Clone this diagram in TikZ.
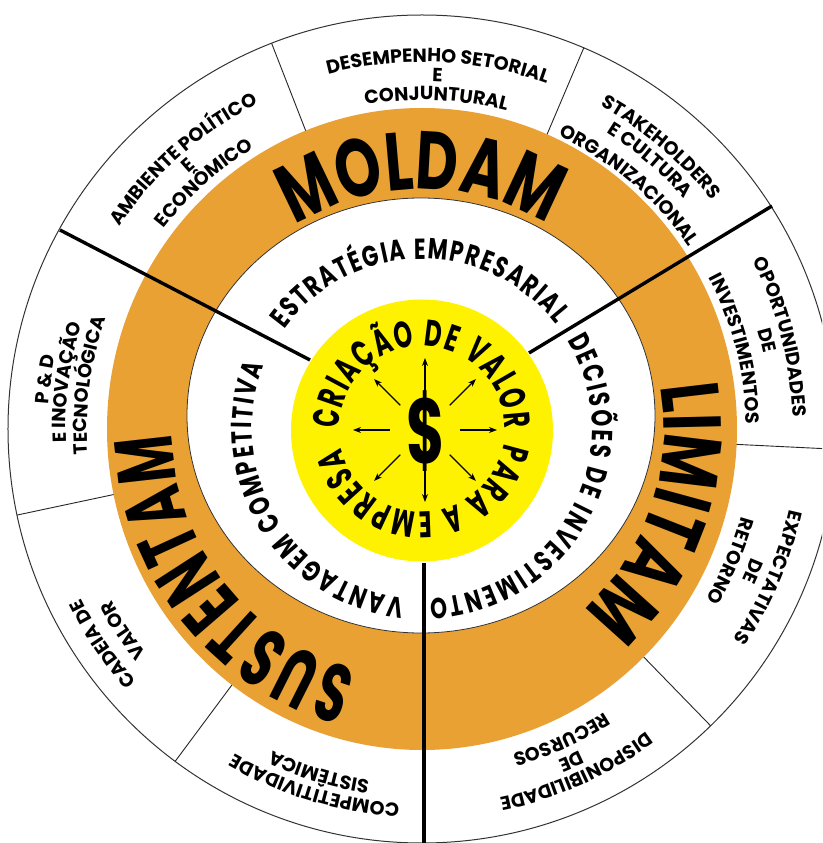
\documentclass[tikz,border=0pt]{standalone}
\usepackage{fontspec}
\setmainfont{Poppins}
\newfontfamily\moldfont{Poppins}[FakeStretch=0.71]
\newfontfamily\moldnarrow{Poppins}[FakeStretch=0.63]
\newfontfamily\innerfont{Poppins}[FakeStretch=0.74]
\newfontfamily\hubfont{Poppins}[FakeStretch=0.64]
\newcommand\lblfmt{\bfseries\fontsize{19}{19}\selectfont}
\newcommand\moldfmt{\moldfont\bfseries\fontsize{82}{82}\selectfont}
\newcommand\narrowfmt{\moldnarrow\bfseries\fontsize{82}{82}\selectfont}
\newcommand\innerfmt{\innerfont\bfseries\fontsize{29}{29}\selectfont}
\newcommand\hubfmt{\hubfont\bfseries\fontsize{37}{37}\selectfont}
\usetikzlibrary{decorations.text,arrows.meta}
\definecolor{ringorange}{RGB}{233,161,52}
\definecolor{hubyellow}{RGB}{255,242,0}
\tikzset{
  rim/.style={draw=black!80, line width=1pt},
  divider/.style={draw=black!85, line width=0.9pt},
  split/.style={draw=black, line width=3.4pt},
  ray/.style={-{Stealth[length=8pt,width=6pt]}, line width=1.2pt},
  arclabel/.style={decorate, decoration={text along path, text align=center, text={|\lblfmt|#1}}},
  bigword/.style={decorate, decoration={text along path, text align={fit to path}, text={|\moldfmt|#1}}},
  narrowword/.style={decorate, decoration={text along path, text align={fit to path}, text={|\narrowfmt|#1}}},
  ringword/.style={decorate, decoration={text along path, text align={fit to path}, text={|\innerfmt|#1}}},
  hubword/.style={decorate, decoration={text along path, text align={fit to path}, text={|\hubfmt|#1}}},
}

\begin{document}
\begin{tikzpicture}[x=1pt,y=1pt]

\fill[white] (-422,-414) rectangle (400,429);
\useasboundingbox (-422,-414) rectangle (400,429);
\clip (-422,-414) rectangle (400,429);

% rings
\draw[rim, fill=white] (0,0) circle[radius=414pt];
\foreach \a in {111.3,67,-2.8,-45.8,192,233.4}
  \draw[divider] (\a:300pt) -- (\a:414pt);
\fill[ringorange] (0,0) ellipse[x radius=315pt, y radius=321pt];
\draw[rim, line width=0.8pt, fill=white] (-1,13.5) ellipse[x radius=234pt, y radius=217.5pt];
\fill[hubyellow] (0,-1.5) circle[radius=131pt];

% three sectors
\draw[split] (-112,69) -- (-362,199);
\draw[split] (107,76) -- (350,223);
\draw[split] (2,-134) -- (2,-414);

% outer labels
\path[arclabel={AMBIENTE POLÍTICO}] (171.5:364pt) arc[start angle=171.5, end angle=91.5, radius=364pt];
\path[arclabel={E}] (171.5:346pt) arc[start angle=171.5, end angle=91.5, radius=346pt];
\path[arclabel={ECONÔMICO}] (171.5:327pt) arc[start angle=171.5, end angle=91.5, radius=327pt];

\path[arclabel={DESEMPENHO SETORIAL}] (127.5:367pt) arc[start angle=127.5, end angle=47.5, radius=367pt];
\path[arclabel={E}] (127.5:348pt) arc[start angle=127.5, end angle=47.5, radius=348pt];
\path[arclabel={CONJUNTURAL}] (127.5:329pt) arc[start angle=127.5, end angle=47.5, radius=329pt];

\path[arclabel={STAKEHOLDERS}] (89.7:369pt) arc[start angle=89.7, end angle=9.7, radius=369pt];
\path[arclabel={E CULTURA}] (89.7:349pt) arc[start angle=89.7, end angle=9.7, radius=349pt];
\path[arclabel={ORGANIZACIONAL}] (89.7:323pt) arc[start angle=89.7, end angle=9.7, radius=323pt];

\path[arclabel={OPORTUNIDADES}] (54.4:371pt) arc[start angle=54.4, end angle=-25.6, radius=371pt];
\path[arclabel={DE}] (54.4:350pt) arc[start angle=54.4, end angle=-25.6, radius=350pt];
\path[arclabel={INVESTIMENTOS}] (54.4:324pt) arc[start angle=54.4, end angle=-25.6, radius=324pt];

\path[arclabel={EXPECTATIVAS}] (16.8:376pt) arc[start angle=16.8, end angle=-63.2, radius=376pt];
\path[arclabel={DE}] (16.8:354pt) arc[start angle=16.8, end angle=-63.2, radius=354pt];
\path[arclabel={RETORNO}] (16.8:331pt) arc[start angle=16.8, end angle=-63.2, radius=331pt];

\path[arclabel={DISPONIBILIDADE}] (-25.8:377pt) arc[start angle=-25.8, end angle=-105.8, radius=377pt];
\path[arclabel={DE}] (-25.8:358pt) arc[start angle=-25.8, end angle=-105.8, radius=358pt];
\path[arclabel={RECURSOS}] (-25.8:337pt) arc[start angle=-25.8, end angle=-105.8, radius=337pt];

\path[arclabel={COMPETITIVIDADE}] (293.3:375pt) arc[start angle=293.3, end angle=213.3, radius=375pt];
\path[arclabel={SISTÊMICA}] (293.3:355pt) arc[start angle=293.3, end angle=213.3, radius=355pt];

\path[arclabel={CADEIA DE}] (254:381pt) arc[start angle=254, end angle=174, radius=381pt];
\path[arclabel={VALOR}] (254:355pt) arc[start angle=254, end angle=174, radius=355pt];

\path[arclabel={P {\&} D}] (212.5:374pt) arc[start angle=212.5, end angle=132.5, radius=374pt];
\path[arclabel={E INOVAÇÃO}] (212.5:356pt) arc[start angle=212.5, end angle=132.5, radius=356pt];
\path[arclabel={TECNOLÓGICA}] (212.5:335pt) arc[start angle=212.5, end angle=132.5, radius=335pt];

% orange ring
\path[bigword={MOLDAM}] (122:240pt) arc[start angle=122, end angle=60, radius=240pt];
\path[bigword={LIMITAM}] (10:242pt) arc[start angle=10, end angle=-48, radius=242pt];
\path[narrowword={SUSTENTAM}] (255:250pt) arc[start angle=255, end angle=181, radius=250pt];

% inner ring
\path[ringword={ESTRATÉGIA EMPRESARIAL}] (144:170pt) arc[start angle=144, end angle=38, radius=170pt];
\path[ringword={DECISÕES DE INVESTIMENTO}] (31.5:170pt) arc[start angle=31.5, end angle=-87.5, radius=170pt];
\path[ringword={VANTAGEM COMPETITIVA}] (264:170pt) arc[start angle=264, end angle=158, radius=170pt];

% hub
\path[hubword={CRIAÇÃO DE VALOR}] (180:83pt) arc[start angle=180, end angle=0, radius=83pt];
\path[hubword={PARA A EMPRESA}] (-10:83pt) arc[start angle=-10, end angle=-167, radius=83pt];

\node[font=\hubfont\bfseries\fontsize{92}{92}\selectfont, inner sep=0pt] (dollar) at (4,-2) {\$};
\foreach \a in {0,45,...,315}
  \draw[ray] ([shift={(\a:35pt)}]3,-1) -- ([shift={(\a:72pt)}]3,-1);

\end{tikzpicture}
\end{document}
